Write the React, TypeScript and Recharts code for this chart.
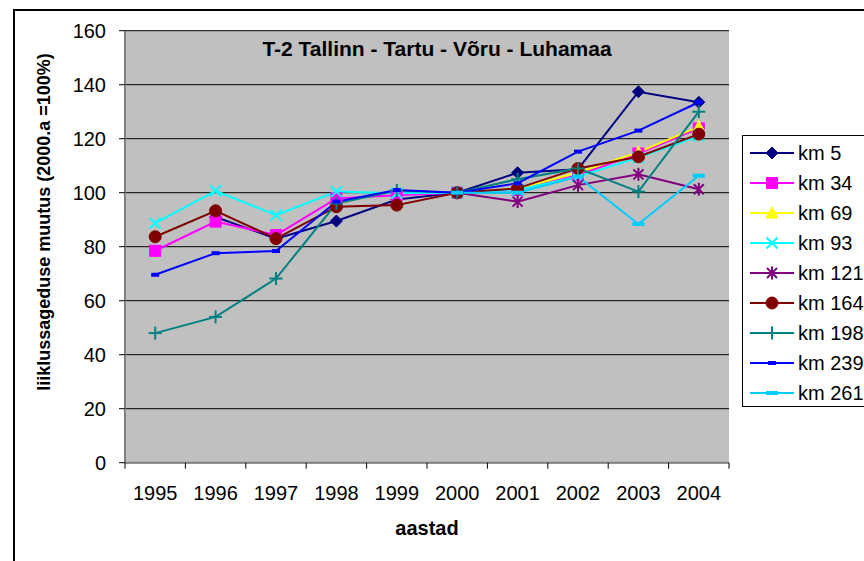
import React from 'react';
import { LineChart, Line, XAxis, YAxis, CartesianGrid, Legend } from 'recharts';

const years = ['1995', '1996', '1997', '1998', '1999', '2000', '2001', '2002', '2003', '2004'];
const yTicks = [0, 20, 40, 60, 80, 100, 120, 140, 160];

const km5 = [null, 91, 83, 89.5, 97.5, 100, 107.4, 108.7, 137.4, 133.5];
const km34 = [78.5, 89.3, 84.3, 97.9, 99.1, 100, 101, 106.5, 114.5, 123.8];
const km69 = [null, null, null, null, null, 100, 101.5, 107.5, 115, 124.5];
const km93 = [88.7, 100.7, 91.7, 100.4, 99.8, 100, 101, 106, 113, 121];
const km121 = [null, null, null, null, null, 100, 96.7, 102.8, 106.8, 101.3];
const km164 = [83.7, 93.3, 83, 94.8, 95.4, 100, 101.6, 109, 113.3, 121.7];
const km198 = [48, 54, 68.2, 96, 100.8, 100, 105, 109, 100.4, 130];
const km239 = [69.6, 77.6, 78.4, 96.7, 101, 100, 103.5, 115.2, 123, 133.5];
const km261 = [null, null, null, null, null, 100, 100, 106, 88.4, 106.3];

const seriesNames = ['km 5', 'km 34', 'km 69', 'km 93', 'km 121', 'km 164', 'km 198', 'km 239', 'km 261'];
const seriesValues = [km5, km34, km69, km93, km121, km164, km198, km239, km261];
const seriesColors = ['#000080', '#FF00FF', '#FFFF00', '#00FFFF', '#800080', '#800000', '#008080', '#0000FF', '#00CCFF'];
const seriesShapes = ['diamond', 'square', 'triangle', 'x', 'star', 'circle', 'plus', 'rectSmall', 'rectWide'];

const data = years.map((y, i) => {
  const row: any = { year: y };
  seriesValues.forEach((vals, s) => {
    row['s' + s] = vals[i];
  });
  return row;
});

const FONT = "Arial, 'Liberation Sans', sans-serif";
const PLOT_W = 604;
const HALF = PLOT_W / years.length / 2;

function Marker({ shape, color, cx, cy }: { shape: string; color: string; cx: number; cy: number }) {
  switch (shape) {
    case 'diamond':
      return <polygon points={`${cx},${cy - 6} ${cx + 6},${cy} ${cx},${cy + 6} ${cx - 6},${cy}`} fill={color} stroke={color} />;
    case 'square':
      return <rect x={cx - 5.5} y={cy - 5.5} width={11} height={11} fill={color} stroke={color} />;
    case 'triangle':
      return <polygon points={`${cx},${cy - 6} ${cx + 6},${cy + 5} ${cx - 6},${cy + 5}`} fill={color} stroke={color} />;
    case 'x':
      return (
        <g stroke={color} strokeWidth={2}>
          <line x1={cx - 5.5} y1={cy - 5.5} x2={cx + 5.5} y2={cy + 5.5} />
          <line x1={cx - 5.5} y1={cy + 5.5} x2={cx + 5.5} y2={cy - 5.5} />
        </g>
      );
    case 'star':
      return (
        <g stroke={color} strokeWidth={2}>
          <line x1={cx - 5} y1={cy - 5} x2={cx + 5} y2={cy + 5} />
          <line x1={cx - 5} y1={cy + 5} x2={cx + 5} y2={cy - 5} />
          <line x1={cx} y1={cy - 6.5} x2={cx} y2={cy + 6.5} />
        </g>
      );
    case 'circle':
      return <circle cx={cx} cy={cy} r={6} fill={color} stroke={color} />;
    case 'plus':
      return (
        <g stroke={color} strokeWidth={2}>
          <line x1={cx - 6.5} y1={cy} x2={cx + 6.5} y2={cy} />
          <line x1={cx} y1={cy - 6.5} x2={cx} y2={cy + 6.5} />
        </g>
      );
    case 'rectSmall':
      return <rect x={cx - 4} y={cy - 2} width={8} height={4} fill={color} />;
    case 'rectWide':
      return <rect x={cx - 6} y={cy - 2} width={12} height={4} fill={color} />;
    default:
      return null;
  }
}

const makeDot = (s: number) => (p: any) => {
  const k = `d${s}-${p.index}`;
  if (p.cx == null || p.cy == null || p.value == null || (Array.isArray(p.value) && p.value[1] == null)) {
    return <g key={k} />;
  }
  return (
    <g key={k}>
      <Marker shape={seriesShapes[s]} color={seriesColors[s]} cx={p.cx} cy={p.cy} />
    </g>
  );
};

const XTick = (props: any) => {
  const { x, y, payload, index } = props;
  return (
    <g>
      <line x1={x - HALF} y1={y} x2={x - HALF} y2={y + 6} stroke="#000" strokeWidth={1} />
      {index === years.length - 1 && <line x1={x + HALF} y1={y} x2={x + HALF} y2={y + 6} stroke="#000" strokeWidth={1} />}
      <text x={x} y={y + 37} textAnchor="middle" fontSize={20} fontFamily={FONT} fill="#000">
        {payload.value}
      </text>
    </g>
  );
};

const LegendBox = () => (
  <div
    style={{
      width: 140,
      height: 272,
      border: '1px solid #000',
      background: '#fff',
      boxSizing: 'border-box',
      position: 'relative',
    }}
  >
    {seriesNames.map((n, s) => (
      <div key={n} style={{ position: 'absolute', left: 0, top: 16.7 + s * 30 - 15, height: 30, width: 140 }}>
        <svg width={52} height={30} style={{ position: 'absolute', left: 6, top: 0 }}>
          <line x1={1} y1={15} x2={45} y2={15} stroke={seriesColors[s]} strokeWidth={2} />
          <Marker shape={seriesShapes[s]} color={seriesColors[s]} cx={23} cy={15} />
        </svg>
        <span
          style={{
            position: 'absolute',
            left: 55,
            top: 3,
            fontSize: 20,
            fontFamily: FONT,
            lineHeight: '24px',
            color: '#000',
            whiteSpace: 'nowrap',
          }}
        >
          {n}
        </span>
      </div>
    ))}
  </div>
);

export default function App() {
  return (
    <div style={{ position: 'absolute', left: 0, top: 0, width: 864, height: 561, overflow: 'hidden', background: '#fff' }}>
      <div
        style={{
          position: 'absolute',
          left: 13,
          top: 9,
          width: 900,
          height: 600,
          border: '2px solid #000',
          boxSizing: 'border-box',
        }}
      />
      <div style={{ position: 'absolute', left: 0, top: 0 }}>
        <LineChart width={864} height={561} data={data} margin={{ top: 30.7, right: 135, bottom: 68.3, left: 65 }}>
          <CartesianGrid vertical={false} stroke="#000" strokeWidth={1} fill="#C0C0C0" fillOpacity={1} />
          <XAxis
            dataKey="year"
            padding={{ left: HALF, right: HALF }}
            interval={0}
            tickLine={false}
            tickSize={0}
            tickMargin={0}
            height={30}
            axisLine={{ stroke: '#808080', strokeWidth: 2 }}
            tick={<XTick />}
          />
          <XAxis
            xAxisId="top"
            dataKey="year"
            orientation="top"
            height={0}
            tick={false}
            tickLine={false}
            axisLine={{ stroke: '#808080', strokeWidth: 2 }}
          />
          <YAxis
            domain={[0, 160]}
            ticks={yTicks}
            interval={0}
            width={60}
            tickSize={6}
            tickMargin={13}
            axisLine={{ stroke: '#808080', strokeWidth: 2 }}
            tickLine={{ stroke: '#000' }}
            tick={{ fill: '#000', fontSize: 20, fontFamily: FONT }}
          />
          <YAxis
            yAxisId="right"
            orientation="right"
            domain={[0, 160]}
            width={0}
            tick={false}
            tickLine={false}
            axisLine={{ stroke: '#808080', strokeWidth: 2 }}
          />
          <Legend
            layout="vertical"
            align="center"
            verticalAlign="middle"
            wrapperStyle={{ left: 742, top: 135, width: 140, height: 272 }}
            content={<LegendBox />}
          />
          {seriesNames.map((n, s) => (
            <Line
              key={n}
              name={n}
              dataKey={'s' + s}
              stroke={seriesColors[s]}
              strokeWidth={2}
              dot={makeDot(s)}
              activeDot={false}
              isAnimationActive={false}
              connectNulls={false}
              type="linear"
            />
          ))}
        </LineChart>
      </div>
      <svg width={864} height={561} style={{ position: 'absolute', left: 0, top: 0, pointerEvents: 'none' }}>
        <text x={437} y={56} textAnchor="middle" fontSize={21} fontWeight="bold" fontFamily={FONT} fill="#000">
          T-2 Tallinn - Tartu - Võru - Luhamaa
        </text>
        <text x={427} y={535} textAnchor="middle" fontSize={20} fontWeight="bold" fontFamily={FONT} fill="#000">
          aastad
        </text>
        <text
          transform="translate(50,222) rotate(-90)"
          textAnchor="middle"
          fontSize={18}
          fontWeight="bold"
          fontFamily={FONT}
          fill="#000"
        >
          liiklussageduse muutus (2000.a =100%)
        </text>
      </svg>
    </div>
  );
}
